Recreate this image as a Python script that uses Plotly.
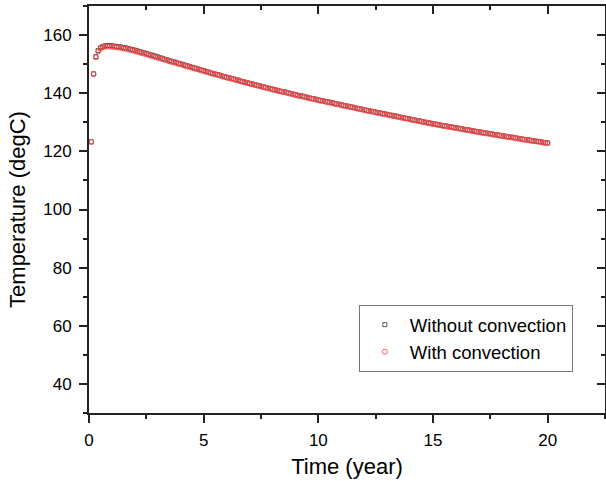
import plotly.graph_objects as go

time_year = [
    0.1, 0.2, 0.3, 0.4, 0.5, 0.6, 0.7, 0.8, 0.9, 1.0,
    1.1, 1.2, 1.3, 1.4, 1.5, 1.6, 1.7, 1.8, 1.9, 2.0,
    2.1, 2.2, 2.3, 2.4, 2.5, 2.6, 2.7, 2.8, 2.9, 3.0,
    3.1, 3.2, 3.3, 3.4, 3.5, 3.6, 3.7, 3.8, 3.9, 4.0,
    4.1, 4.2, 4.3, 4.4, 4.5, 4.6, 4.7, 4.8, 4.9, 5.0,
    5.1, 5.2, 5.3, 5.4, 5.5, 5.6, 5.7, 5.8, 5.9, 6.0,
    6.1, 6.2, 6.3, 6.4, 6.5, 6.6, 6.7, 6.8, 6.9, 7.0,
    7.1, 7.2, 7.3, 7.4, 7.5, 7.6, 7.7, 7.8, 7.9, 8.0,
    8.1, 8.2, 8.3, 8.4, 8.5, 8.6, 8.7, 8.8, 8.9, 9.0,
    9.1, 9.2, 9.3, 9.4, 9.5, 9.6, 9.7, 9.8, 9.9, 10.0,
    10.1, 10.2, 10.3, 10.4, 10.5, 10.6, 10.7, 10.8, 10.9, 11.0,
    11.1, 11.2, 11.3, 11.4, 11.5, 11.6, 11.7, 11.8, 11.9, 12.0,
    12.1, 12.2, 12.3, 12.4, 12.5, 12.6, 12.7, 12.8, 12.9, 13.0,
    13.1, 13.2, 13.3, 13.4, 13.5, 13.6, 13.7, 13.8, 13.9, 14.0,
    14.1, 14.2, 14.3, 14.4, 14.5, 14.6, 14.7, 14.8, 14.9, 15.0,
    15.1, 15.2, 15.3, 15.4, 15.5, 15.6, 15.7, 15.8, 15.9, 16.0,
    16.1, 16.2, 16.3, 16.4, 16.5, 16.6, 16.7, 16.8, 16.9, 17.0,
    17.1, 17.2, 17.3, 17.4, 17.5, 17.6, 17.7, 17.8, 17.9, 18.0,
    18.1, 18.2, 18.3, 18.4, 18.5, 18.6, 18.7, 18.8, 18.9, 19.0,
    19.1, 19.2, 19.3, 19.4, 19.5, 19.6, 19.7, 19.8, 19.9, 20.0,
]

temp_without_convection = [
    123.3, 146.7, 152.6, 154.7, 155.6, 156.1, 156.3, 156.4, 156.4, 156.3,
    156.2, 156.1, 156.0, 155.9, 155.7, 155.6, 155.4, 155.2, 155.0, 154.8,
    154.6, 154.3, 154.1, 153.9, 153.7, 153.4, 153.2, 153.0, 152.7, 152.5,
    152.2, 152.0, 151.7, 151.5, 151.2, 151.0, 150.8, 150.6, 150.3, 150.1,
    149.9, 149.6, 149.4, 149.2, 148.9, 148.7, 148.5, 148.2, 148.0, 147.8,
    147.5, 147.3, 147.0, 146.8, 146.6, 146.4, 146.2, 145.9, 145.7, 145.5,
    145.3, 145.1, 144.9, 144.7, 144.5, 144.2, 144.0, 143.8, 143.6, 143.4,
    143.2, 143.0, 142.8, 142.6, 142.4, 142.2, 142.0, 141.8, 141.6, 141.4,
    141.2, 141.0, 140.8, 140.6, 140.5, 140.3, 140.1, 139.9, 139.7, 139.5,
    139.3, 139.1, 139.0, 138.8, 138.6, 138.4, 138.2, 138.1, 137.9, 137.7,
    137.5, 137.4, 137.2, 137.0, 136.9, 136.7, 136.5, 136.3, 136.2, 136.0,
    135.8, 135.7, 135.5, 135.3, 135.2, 135.0, 134.8, 134.6, 134.5, 134.3,
    134.1, 134.0, 133.8, 133.7, 133.5, 133.3, 133.2, 133.0, 132.9, 132.7,
    132.5, 132.4, 132.2, 132.1, 131.9, 131.7, 131.6, 131.4, 131.3, 131.1,
    130.9, 130.8, 130.6, 130.5, 130.3, 130.1, 130.0, 129.8, 129.7, 129.5,
    129.4, 129.2, 129.1, 128.9, 128.8, 128.7, 128.5, 128.4, 128.2, 128.1,
    128.0, 127.8, 127.7, 127.5, 127.4, 127.3, 127.1, 127.0, 126.8, 126.7,
    126.6, 126.4, 126.3, 126.2, 126.1, 125.9, 125.8, 125.7, 125.5, 125.4,
    125.3, 125.1, 125.0, 124.9, 124.8, 124.6, 124.5, 124.4, 124.2, 124.1,
    124.0, 123.9, 123.7, 123.6, 123.5, 123.4, 123.3, 123.1, 123.0, 122.9,
]

temp_with_convection = [
    123.2, 146.5, 152.3, 154.4, 155.3, 155.8, 156.0, 156.1, 156.1, 156.0,
    155.9, 155.8, 155.7, 155.6, 155.4, 155.3, 155.1, 154.9, 154.7, 154.5,
    154.3, 154.0, 153.8, 153.6, 153.4, 153.1, 152.9, 152.7, 152.4, 152.2,
    152.0, 151.7, 151.5, 151.3, 151.0, 150.8, 150.6, 150.4, 150.1, 149.9,
    149.7, 149.4, 149.2, 149.0, 148.7, 148.5, 148.3, 148.1, 147.8, 147.6,
    147.4, 147.2, 146.9, 146.7, 146.5, 146.3, 146.1, 145.8, 145.6, 145.4,
    145.2, 145.0, 144.8, 144.6, 144.4, 144.1, 143.9, 143.7, 143.5, 143.3,
    143.1, 142.9, 142.7, 142.5, 142.3, 142.1, 141.9, 141.7, 141.5, 141.3,
    141.1, 140.9, 140.7, 140.5, 140.4, 140.2, 140.0, 139.8, 139.6, 139.4,
    139.2, 139.0, 138.9, 138.7, 138.5, 138.3, 138.1, 138.0, 137.8, 137.6,
    137.4, 137.3, 137.1, 136.9, 136.8, 136.6, 136.4, 136.2, 136.1, 135.9,
    135.7, 135.6, 135.4, 135.2, 135.1, 134.9, 134.7, 134.5, 134.4, 134.2,
    134.0, 133.9, 133.7, 133.6, 133.4, 133.2, 133.1, 132.9, 132.8, 132.6,
    132.4, 132.3, 132.1, 132.0, 131.8, 131.6, 131.5, 131.3, 131.2, 131.0,
    130.8, 130.7, 130.5, 130.4, 130.2, 130.0, 129.9, 129.7, 129.6, 129.4,
    129.3, 129.1, 129.0, 128.8, 128.7, 128.6, 128.4, 128.3, 128.1, 128.0,
    127.9, 127.7, 127.6, 127.4, 127.3, 127.2, 127.0, 126.9, 126.7, 126.6,
    126.5, 126.3, 126.2, 126.1, 126.0, 125.8, 125.7, 125.6, 125.4, 125.3,
    125.2, 125.0, 124.9, 124.8, 124.7, 124.5, 124.4, 124.3, 124.1, 124.0,
    123.9, 123.8, 123.6, 123.5, 123.4, 123.3, 123.2, 123.0, 122.9, 122.8,
]

x_range = [0, 22.5]
y_range = [30, 170]
x_ticks = [0, 5, 10, 15, 20]
y_ticks = [40, 60, 80, 100, 120, 140, 160]

FONT = "Liberation Sans, Arial, sans-serif"

fig = go.Figure()
fig.add_trace(go.Scatter(
    x=time_year, y=temp_without_convection, mode="markers",
    name="Without convection",
    marker=dict(symbol="square-open", size=4, color="#333333", line=dict(width=0.8)),
))
fig.add_trace(go.Scatter(
    x=time_year, y=temp_with_convection, mode="markers",
    name="With convection",
    marker=dict(symbol="circle-open", size=5, color="#ff4a4a", line=dict(width=0.9)),
))
# empty trace so the mirrored (inside-tick) axes are drawn
fig.add_trace(go.Scatter(x=[], y=[], xaxis="x2", yaxis="y2", showlegend=False))

axis_common = dict(
    showline=True, linecolor="#222222", linewidth=2,
    showgrid=False, zeroline=False, automargin=False,
    tickcolor="#222222", tickwidth=2,
    tickfont=dict(family=FONT, size=17, color="black"),
)
minor_common = dict(ticklen=4, tickcolor="#222222", tickwidth=2)

fig.update_layout(
    width=606, height=481,
    paper_bgcolor="white", plot_bgcolor="white",
    margin=dict(l=89, r=1, t=6, b=68, autoexpand=False),
    font=dict(family=FONT, color="black"),
    showlegend=True,
    legend=dict(
        x=0.523, y=0.265, xanchor="left", yanchor="top",
        bgcolor="white", bordercolor="#777777", borderwidth=1,
        font=dict(family=FONT, size=18.5, color="black"),
        itemwidth=40, tracegroupgap=0,
    ),
    xaxis=dict(
        **axis_common, range=x_range, tickmode="array", tickvals=x_ticks,
        ticks="outside", ticklen=8, ticklabelstandoff=3,
        minor=dict(ticks="outside", dtick=2.5, tick0=0, **minor_common),
        title=dict(text="Time (year)", font=dict(family=FONT, size=22, color="black"), standoff=9),
    ),
    yaxis=dict(
        **axis_common, range=y_range, tickmode="array", tickvals=y_ticks,
        ticks="outside", ticklen=8, ticklabelstandoff=4,
        minor=dict(ticks="outside", dtick=10, tick0=0, **minor_common),
        title=dict(text="Temperature (degC)", font=dict(family=FONT, size=22, color="black"), standoff=12),
    ),
    xaxis2=dict(
        **axis_common, overlaying="x", side="top", range=x_range,
        tickmode="array", tickvals=x_ticks, ticks="inside", ticklen=8,
        minor=dict(ticks="inside", dtick=2.5, tick0=0, **minor_common),
        showticklabels=False,
    ),
    yaxis2=dict(
        **axis_common, overlaying="y", side="right", range=y_range,
        tickmode="array", tickvals=y_ticks, ticks="inside", ticklen=8,
        minor=dict(ticks="inside", dtick=10, tick0=0, **minor_common),
        showticklabels=False,
    ),
)

fig.write_html(
    "out.html",
    config={"displayModeBar": False},
    post_script="document.body.style.margin='0';document.body.style.padding='0';",
)
